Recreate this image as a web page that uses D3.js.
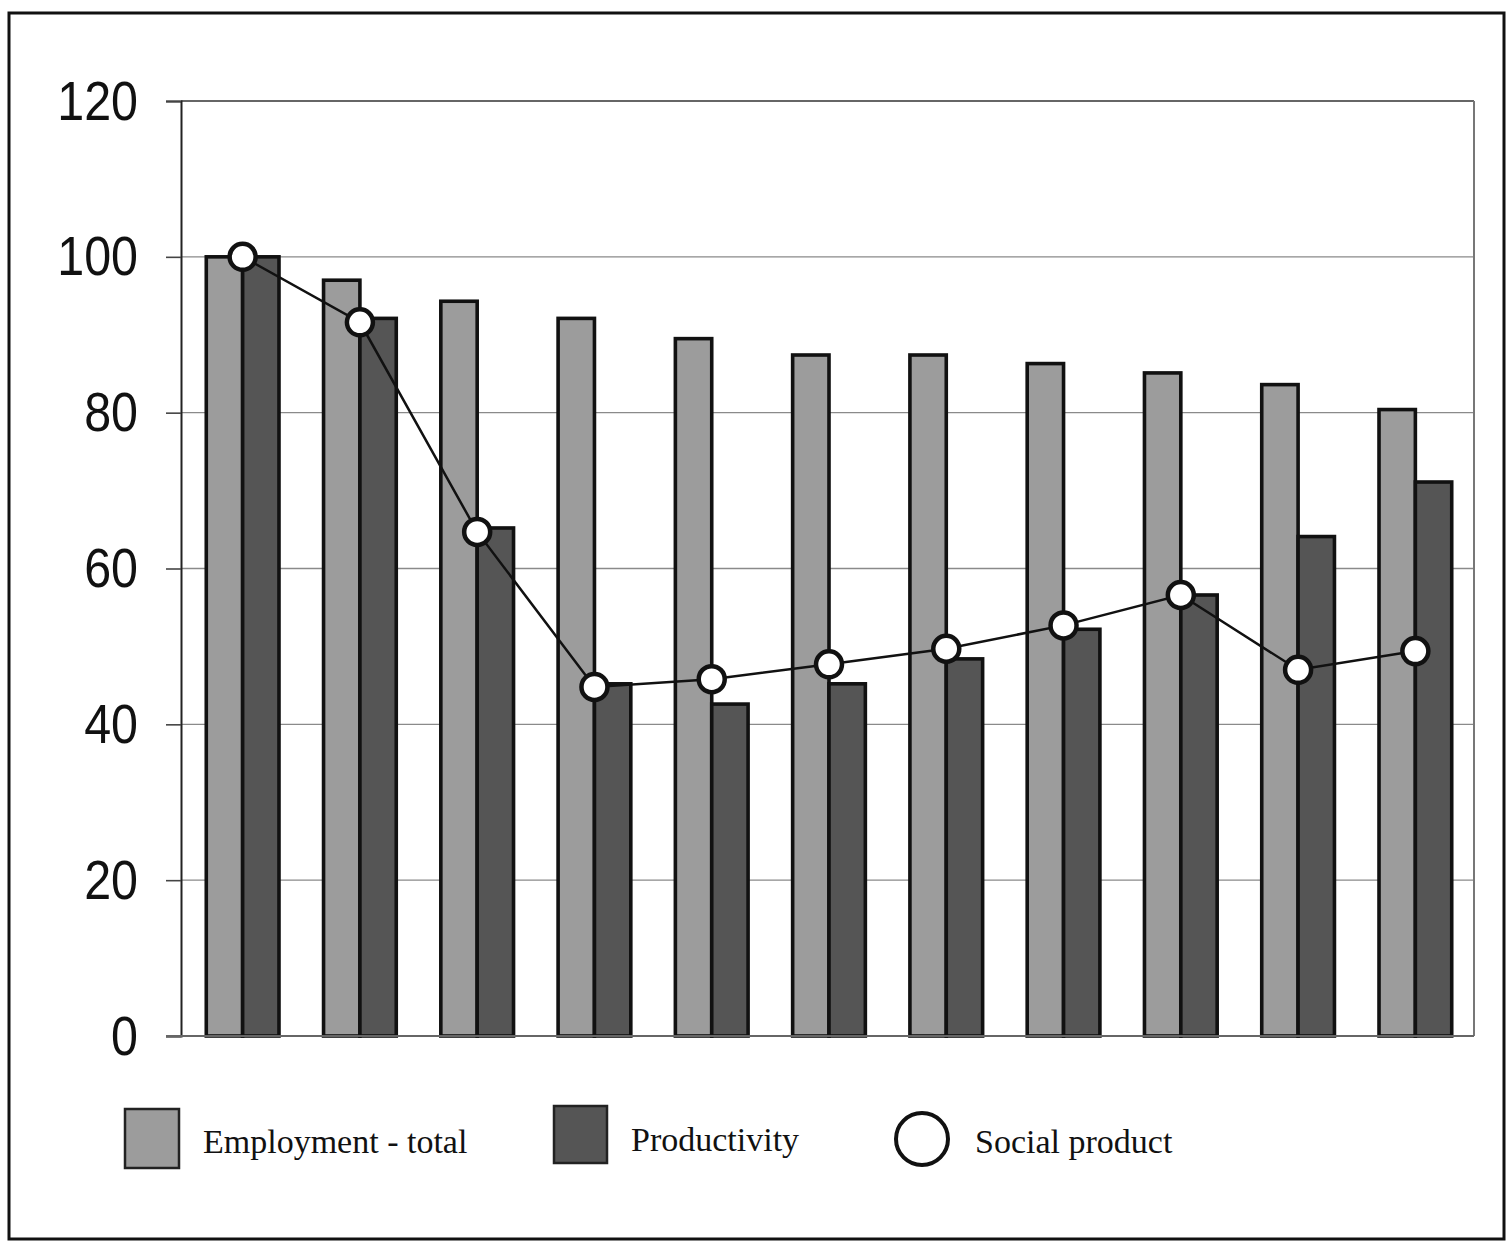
<!DOCTYPE html>
<html>
<head>
<meta charset="utf-8">
<script src="https://cdn.jsdelivr.net/npm/d3@7"></script>
<style>
  html, body { margin: 0; padding: 0; background: #fff; }
  svg { display: block; }
</style>
</head>
<body>
<svg id="chart" width="1509" height="1242"></svg>
<script>
// ---- Data ----
const categories = ["1", "2", "3", "4", "5", "6", "7", "8", "9", "10", "11"];
const employment = [100, 97.0, 94.3, 92.1, 89.5, 87.4, 87.4, 86.3, 85.1, 83.6, 80.4];
const productivity = [100, 92.1, 65.2, 45.2, 42.6, 45.2, 48.4, 52.2, 56.6, 64.1, 71.1];
const socialProduct = [100, 91.6, 64.7, 44.8, 45.8, 47.7, 49.7, 52.7, 56.6, 47.0, 49.4];
const yTicks = [0, 20, 40, 60, 80, 100, 120];
const seriesNames = ["Employment - total", "Productivity", "Social product"];

// ---- Layout ----
const svg = d3.select("#chart");
const plot = { left: 181, right: 1474, top: 101, bottom: 1036 };

const colEmp = "#9c9c9c";
const colProd = "#555555";

// outer frame
svg.append("rect")
  .attr("x", 9).attr("y", 13).attr("width", 1495).attr("height", 1226)
  .attr("fill", "none").attr("stroke", "#111").attr("stroke-width", 3);

const x0 = d3.scaleBand().domain(categories).range([plot.left + 3, plot.right]).padding(0);
const x1 = d3.scaleBand().domain(["emp", "prod"])
  .range([x0.bandwidth() * 0.19, x0.bandwidth() * 0.81]).padding(0);
const y = d3.scaleLinear().domain([0, 120]).range([plot.bottom, plot.top]);

// gridlines
svg.append("g")
  .selectAll("line")
  .data(yTicks.filter(t => t > 0))
  .join("line")
  .attr("x1", plot.left).attr("x2", plot.right)
  .attr("y1", d => y(d)).attr("y2", d => y(d))
  .attr("stroke", d => d === 120 ? "#666" : "#8a8a8a")
  .attr("stroke-width", d => d === 120 ? 2.2 : 1.4);

// right border of plot
svg.append("line")
  .attr("x1", plot.right).attr("x2", plot.right)
  .attr("y1", plot.top).attr("y2", plot.bottom)
  .attr("stroke", "#777").attr("stroke-width", 2);

// y axis
const yAxis = d3.axisLeft(y).tickValues(yTicks).tickSize(15).tickPadding(0);
const yg = svg.append("g").attr("transform", `translate(${plot.left},0)`).call(yAxis);
yg.select(".domain").attr("stroke", "#222").attr("stroke-width", 2);
yg.selectAll(".tick line").attr("stroke", "#444").attr("stroke-width", 1.6);
yg.selectAll(".tick text")
  .attr("x", null)
  .attr("dy", null)
  .attr("dominant-baseline", "central")
  .attr("transform", "translate(-43,-1) scale(0.88,1)")
  .attr("font-family", "'Liberation Sans', Arial, sans-serif")
  .attr("font-size", 55)
  .attr("fill", "#111");

// bars
const groups = svg.append("g").selectAll("g")
  .data(categories)
  .join("g")
  .attr("transform", d => `translate(${x0(d)},0)`);

groups.append("rect")
  .attr("x", x1("emp"))
  .attr("width", x1.bandwidth())
  .attr("y", (d, i) => y(employment[i]))
  .attr("height", (d, i) => y(0) - y(employment[i]))
  .attr("fill", colEmp).attr("stroke", "#111").attr("stroke-width", 3.6);

groups.append("rect")
  .attr("x", x1("prod"))
  .attr("width", x1.bandwidth())
  .attr("y", (d, i) => y(productivity[i]))
  .attr("height", (d, i) => y(0) - y(productivity[i]))
  .attr("fill", colProd).attr("stroke", "#111").attr("stroke-width", 3.6);

// x axis baseline
svg.append("line")
  .attr("x1", plot.left - 15).attr("x2", plot.right)
  .attr("y1", y(0)).attr("y2", y(0))
  .attr("stroke", "#666").attr("stroke-width", 2);

// social product line + markers
const cx = d => x0(d) + x0.bandwidth() / 2;
const line = d3.line()
  .x((d, i) => cx(categories[i]))
  .y(d => y(d));
svg.append("path")
  .datum(socialProduct)
  .attr("d", line)
  .attr("fill", "none").attr("stroke", "#111").attr("stroke-width", 2.5);

svg.append("g").selectAll("circle")
  .data(socialProduct)
  .join("circle")
  .attr("cx", (d, i) => cx(categories[i]))
  .attr("cy", d => y(d))
  .attr("r", 13)
  .attr("fill", "#fff").attr("stroke", "#111").attr("stroke-width", 4.5);

// legend
const legend = svg.append("g")
  .attr("font-family", "'Liberation Serif', 'Times New Roman', serif")
  .attr("font-size", 34).attr("fill", "#111");

legend.append("rect").attr("x", 125).attr("y", 1109).attr("width", 54).attr("height", 59)
  .attr("fill", colEmp).attr("stroke", "#222").attr("stroke-width", 2.5);
legend.append("text").attr("x", 203).attr("y", 1153).text(seriesNames[0]);

legend.append("rect").attr("x", 554).attr("y", 1106).attr("width", 53).attr("height", 57)
  .attr("fill", colProd).attr("stroke", "#222").attr("stroke-width", 2.5);
legend.append("text").attr("x", 631).attr("y", 1151).text(seriesNames[1]);

legend.append("circle").attr("cx", 922).attr("cy", 1139).attr("r", 26)
  .attr("fill", "#fff").attr("stroke", "#111").attr("stroke-width", 4);
legend.append("text").attr("x", 975).attr("y", 1153).text(seriesNames[2]);
</script>
</body>
</html>
